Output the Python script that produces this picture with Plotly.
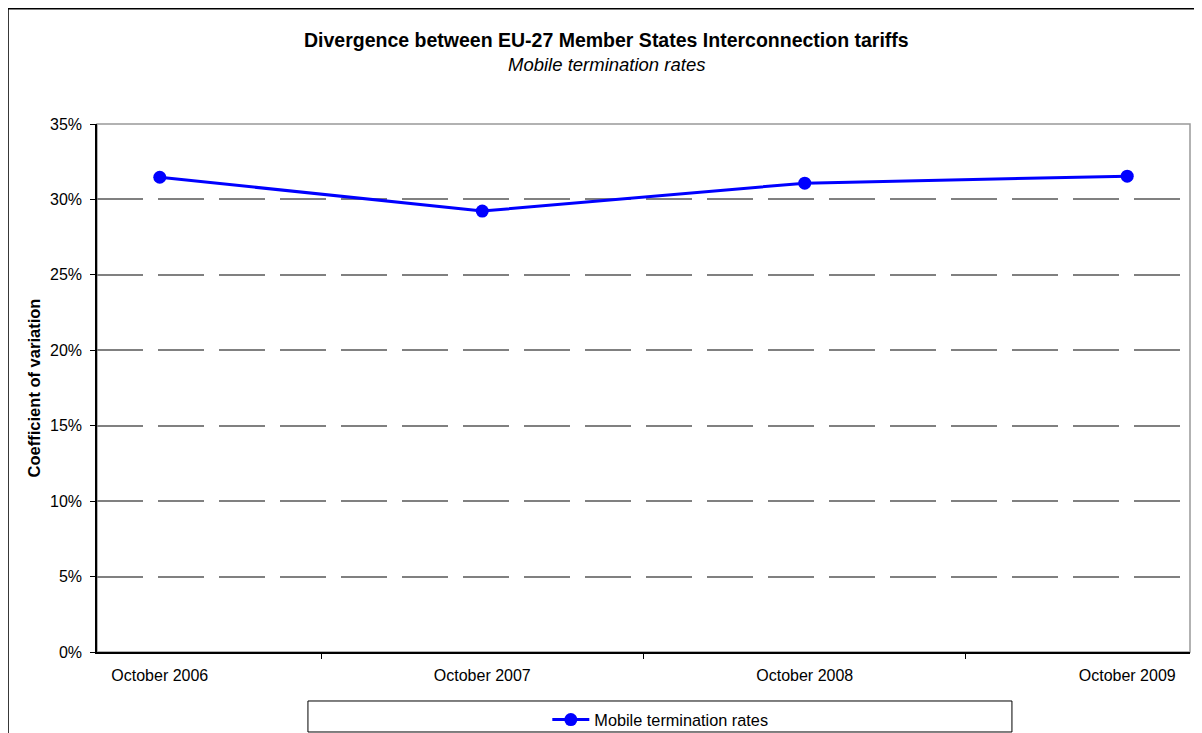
import plotly.graph_objects as go

periods = ["October 2006", "October 2007", "October 2008", "October 2009"]
mtr_cv = [0.3147, 0.2923, 0.3108, 0.3154]
y_ticks = [0, 0.05, 0.10, 0.15, 0.20, 0.25, 0.30, 0.35]

FONT = "Liberation Sans, Arial, sans-serif"

fig = go.Figure(go.Scatter(
    x=periods, y=mtr_cv, mode="lines+markers", name="Mobile termination rates",
    line=dict(color="#0000ff", width=3),
    marker=dict(color="#0000ff", size=13),
))

# page body has an 8px margin, so the figure is 8px smaller and margins shifted
fig.update_layout(
    width=1194, height=725,
    margin=dict(l=89, r=12, t=116, b=81, autoexpand=False),
    paper_bgcolor="white", plot_bgcolor="white",
    font=dict(family=FONT, size=16, color="black"),
    showlegend=True,
    legend=dict(orientation="h", x=0.412, xanchor="left", y=-0.1288, yanchor="middle",
                bgcolor="rgba(0,0,0,0)", font=dict(size=16.3), itemwidth=37),
    annotations=[
        dict(text="<b>Divergence between EU-27 Member States Interconnection tariffs</b>",
             xref="paper", yref="paper", x=0.4657, y=1.159, xanchor="center", yanchor="middle",
             showarrow=False, font=dict(size=19.5)),
        dict(text="<i>Mobile termination rates</i>",
             xref="paper", yref="paper", x=0.4657, y=1.1136, xanchor="center", yanchor="middle",
             showarrow=False, font=dict(size=18.5)),
    ],
    shapes=[
        # chart border
        dict(type="rect", xref="paper", yref="paper", x0=-0.0814, x1=1.03, y0=-0.3, y1=1.2185,
             line=dict(color="black", width=1.5)),
        # plot area border
        dict(type="rect", xref="paper", yref="paper", x0=0, x1=1, y0=0, y1=1,
             line=dict(color="#999999", width=1.5), layer="below"),
        # legend box
        dict(type="rect", xref="paper", yref="paper", x0=0.193, x1=0.8371, y0=-0.1515, y1=-0.0928,
             line=dict(color="black", width=1)),
    ],
)

fig.update_xaxes(
    type="category", tickson="boundaries", ticks="outside", ticklen=5,
    tickcolor="black", showline=True, linecolor="black", linewidth=2,
    showgrid=False, tickfont=dict(size=16), ticklabelstandoff=8, automargin=False,
)
fig.update_yaxes(
    range=[0, 0.35], tickvals=y_ticks, tickformat=".0%", ticks="outside", ticklen=5,
    tickcolor="black", showline=True, linecolor="black", linewidth=1.5,
    showgrid=True, gridcolor="#808080", gridwidth=1.5, griddash="46px,15px",
    zeroline=False, tickfont=dict(size=16), ticklabelstandoff=5, automargin=False,
    title=dict(text="<b>Coefficient of variation</b>", font=dict(size=16.5), standoff=5),
)

fig.write_html("out.html")
